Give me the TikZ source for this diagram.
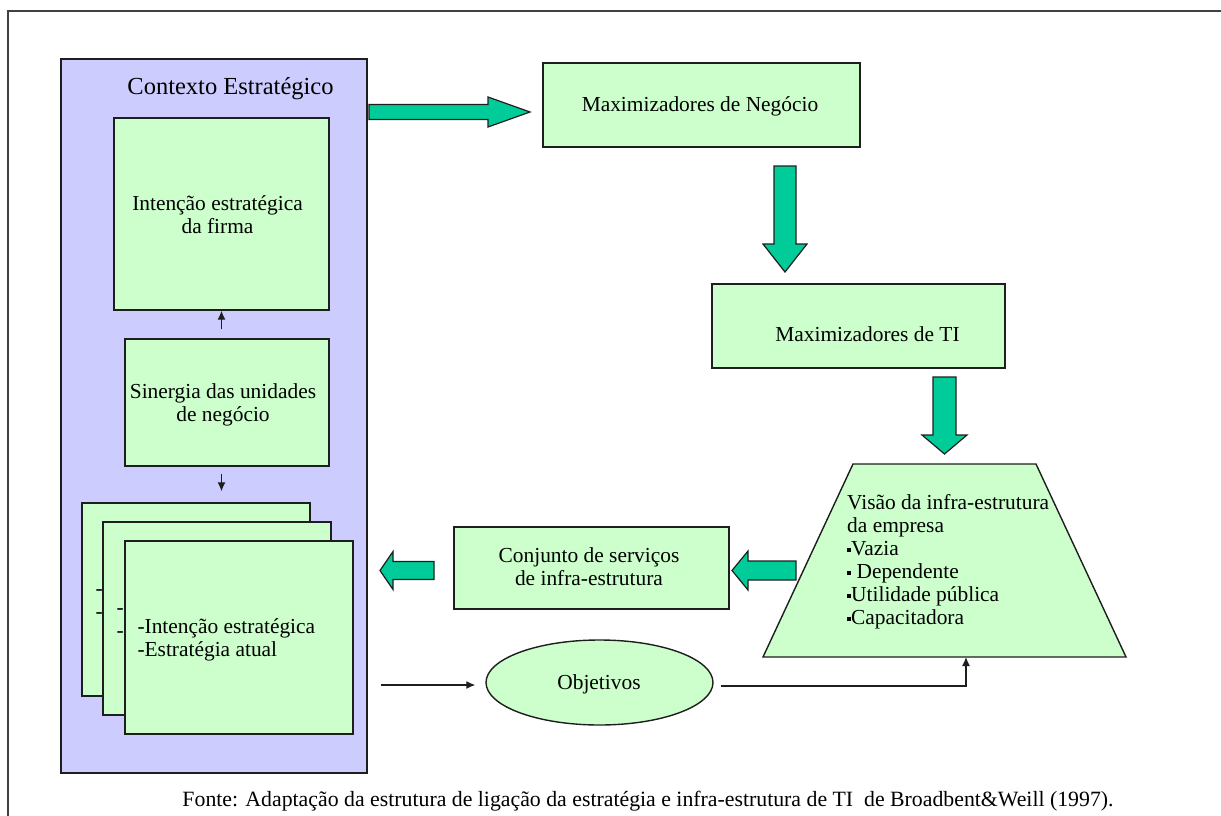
\documentclass[tikz,border=0pt]{standalone}
\usepackage{fontspec}
\setmainfont{Liberation Serif}
\usetikzlibrary{arrows.meta,shapes.geometric,calc}

\definecolor{panelblue}{HTML}{CCCCFF}
\definecolor{boxgreen}{HTML}{CCFFCC}
\definecolor{arrowgreen}{HTML}{00CC99}
\definecolor{edge}{HTML}{1E1E1E}

% horizontal block arrow: tail x, head base x, tip x, centre y, half shaft, half head
\newcommand{\hblockarrow}[6]{%
  \draw[bigarrow] (#1,#4-#5) -- (#2,#4-#5) -- (#2,#4-#6) -- (#3,#4)
    -- (#2,#4+#6) -- (#2,#4+#5) -- (#1,#4+#5) -- cycle;}
% vertical block arrow: centre x, tail y, head base y, tip y, half shaft, half head
\newcommand{\vblockarrow}[6]{%
  \draw[bigarrow] (#1-#5,#2) -- (#1-#5,#3) -- (#1-#6,#3) -- (#1,#4)
    -- (#1+#6,#3) -- (#1+#5,#3) -- (#1+#5,#2) -- cycle;}

\tikzset{
  panel/.style={draw=edge, line width=1.4pt, fill=panelblue},
  gbox/.style={draw=edge, line width=1.4pt, fill=boxgreen, inner sep=0pt},
  bigarrow/.style={draw=edge, line width=1.2pt, fill=arrowgreen, line join=miter},
  label/.style={inner sep=0pt, font=\fontsize{21.4}{23}\selectfont, align=center},
  leftlabel/.style={inner sep=0pt, font=\fontsize{21.4}{23}\selectfont, align=left},
  thin/.style={draw=edge, line width=1.3pt},
  smallarr/.style={thin, -{Latex[length=9pt,width=8pt]}}
}

\begin{document}
\begin{tikzpicture}[x=1pt,y=-1pt]
\useasboundingbox (0,0) rectangle (1221,816);

% frame (top and left edges)
\draw[draw=black!75, line width=1.8pt] (8,816) -- (8,11) -- (1221,11);

% strategic context panel
\draw[panel] (61,59) rectangle (367,773);
\node[label, anchor=base, font=\fontsize{24.5}{27}\selectfont] (ctxt) at (230.5,95) {Contexto Estratégico};

% boxes inside the panel (multi-line labels are placed by their last baseline)
\node[gbox, minimum width=215pt, minimum height=192pt] (int) at (221.5,214) {};
\node[label, anchor=base] (inttext) at (217.5,233) {Intenção estratégica\\da firma};

\node[gbox, minimum width=204pt, minimum height=127pt] (sin) at (227,402.5) {};
\node[label, anchor=base] (sintext) at (223,421) {Sinergia das unidades\\de negócio};

% stacked business unit sheets
\node[gbox, minimum width=228pt, minimum height=193pt] (st1) at (196,599.5) {};
\node[leftlabel, anchor=base west] (st1text) at ($(st1.north west)+(14,116)$) {-\\-};
\node[gbox, minimum width=228pt, minimum height=193pt] (st2) at (217,618.5) {};
\node[leftlabel, anchor=base west] (st2text) at ($(st2.north west)+(14,116)$) {-\\-};
\node[gbox, minimum width=228pt, minimum height=193pt] (st3) at (239,637.5) {};
\node[leftlabel, anchor=base west] (st3text) at ($(st3.north west)+(13,116)$) {-Intenção estratégica\\-Estratégia atual};

\draw[smallarr, shorten <=9pt] (int.south |- sin.north) -- (int.south);
\draw[smallarr, shorten <=7pt, shorten >=11pt] (int.south |- sin.south) -- (int.south |- st1.north);

% right-hand chain
\node[gbox, minimum width=317pt, minimum height=84pt] (neg) at (701.5,105) {};
\node[label, anchor=base] (negtext) at (700,111) {Maximizadores de Negócio};

\node[gbox, minimum width=293pt, minimum height=84pt] (ti) at (858.5,326) {};
\node[label, anchor=base] (titext) at (867.5,341) {Maximizadores de TI};

% infrastructure view (trapezium)
\coordinate (tbl) at (763,657);
\coordinate (tbr) at (1126,657);
\coordinate (ttr) at (1036,464);
\coordinate (ttl) at (853,464);
\coordinate (tin) at (966,657);
\draw[gbox] (tbl) -- (tbr) -- (ttr) -- (ttl) -- cycle;
\newcommand{\sqbullet}{\raisebox{3.5pt}{\rule{4pt}{4pt}}}
\node[leftlabel, anchor=base west] (vistext) at (847,624)
  {Visão da infra-estrutura\\da empresa\\\sqbullet Vazia\\\sqbullet{} Dependente\\\sqbullet Utilidade pública\\\sqbullet Capacitadora};

\node[gbox, minimum width=275pt, minimum height=82pt] (conj) at (591.5,568) {};
\node[label, anchor=base] (conjtext) at (589,585) {Conjunto de serviços\\de infra-estrutura};

\node[gbox, ellipse, minimum width=227pt, minimum height=85pt] (obj) at (599.5,682.5) {};
\node[label, anchor=base] (objtext) at (599,689) {Objetivos};

% block arrows
\hblockarrow{369}{488}{530}{112}{7.5}{15}
\vblockarrow{785}{166}{244}{272}{11}{22}
\vblockarrow{944.5}{377}{435}{454}{11.5}{22.5}
\hblockarrow{796}{748}{732}{570.5}{9.5}{19.5}
\hblockarrow{434}{393}{380}{570.5}{9}{19}

% objectives links
\coordinate (stout) at (381,685);
\draw[smallarr, shorten >=10pt] (stout) -- (stout -| obj.west);
\draw[smallarr, shorten <=7pt] (obj.east |- 0,686) -- (tin |- 0,686) -- (tin);

% source line
\node[label, anchor=base, font=\fontsize{21.8}{24}\selectfont] (src) at (648,806)
  {Fonte: Adaptação da estrutura de ligação da estratégia e infra-estrutura de TI\ \ de Broadbent\&Weill (1997).};
\end{tikzpicture}
\end{document}
